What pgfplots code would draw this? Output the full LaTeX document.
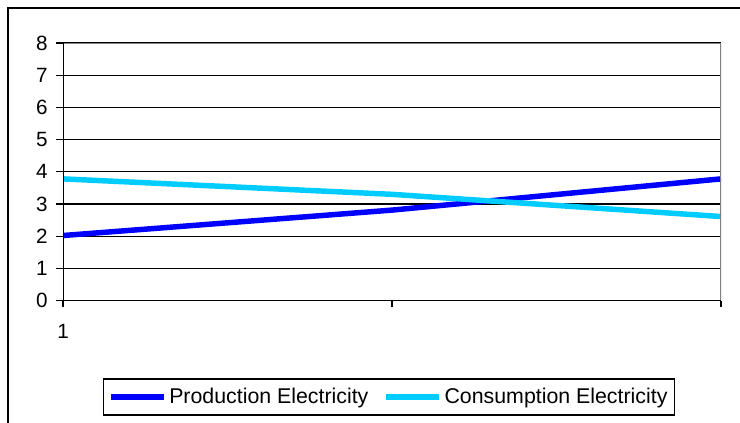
\documentclass[border=0pt]{standalone}
\usepackage{pgfplots}
\pgfplotsset{compat=1.18}
\usepackage{fontspec}
\setmainfont{Liberation Sans}

\definecolor{prodblue}{HTML}{0000FF}
\definecolor{conscyan}{HTML}{00CCFF}
\definecolor{frame gray}{HTML}{808080}

\pgfplotstableread{
x  prod  cons
1  2.02  3.78
2  2.81  3.30
3  3.78  2.61
}\electricity

\begin{document}
\begin{tikzpicture}
% page area and the chart frame, which runs past the right and bottom edges
\useasboundingbox (0,0) rectangle (555pt,316.5pt);
\draw[black, line width=1.1pt] (6pt,-20pt) -- (6pt,310.5pt) -- (580pt,310.5pt);
\begin{axis}[
  at={(47.25pt,91.1pt)}, anchor=south west,
  scale only axis,
  width=493.5pt, height=193.1pt,
  xmin=1, xmax=3, ymin=0, ymax=8,
  xtick={1,2,3}, xticklabels={1,,},
  ytick={0,1,...,8},
  xtick pos=bottom, ytick pos=left,
  ymajorgrids,
  grid style={black, line width=1pt},
  axis line style={draw=none},
  tick align=outside,
  major tick length=5pt,
  tick style={black, line width=1pt},
  /pgf/number format/assume math mode=true,
  ticklabel style={font=\fontsize{15.5}{18}\selectfont},
  yticklabel style={xshift=-3pt},
  xticklabel style={yshift=-9pt},
  legend style={
    at={(0.4954,-0.3748)}, anchor=center,
    draw=black, line width=0.9pt,
    font=\fontsize{16}{19}\selectfont,
    legend columns=2,
    /tikz/every even column/.append style={column sep=9pt},
    inner xsep=3pt, inner ysep=5pt,
  },
  legend image code/.code={\draw[#1] (0pt,0pt) -- (40pt,0pt);},
]
\addplot[prodblue, line width=4.1pt] table[x=x, y=prod] {\electricity};
\addlegendentry{Production Electricity}
\addplot[conscyan, line width=4.1pt] table[x=x, y=cons] {\electricity};
\addlegendentry{Consumption Electricity}
% plot area border: black axis lines, gray right and top edges
\draw[frame gray, line width=1.2pt] (rel axis cs:0,1) -- (rel axis cs:1,1) -- (rel axis cs:1,0);
\draw[black, line width=1.2pt] (rel axis cs:0,1) -- (rel axis cs:0,0) -- (rel axis cs:1,0);
\end{axis}
\end{tikzpicture}
\end{document}
